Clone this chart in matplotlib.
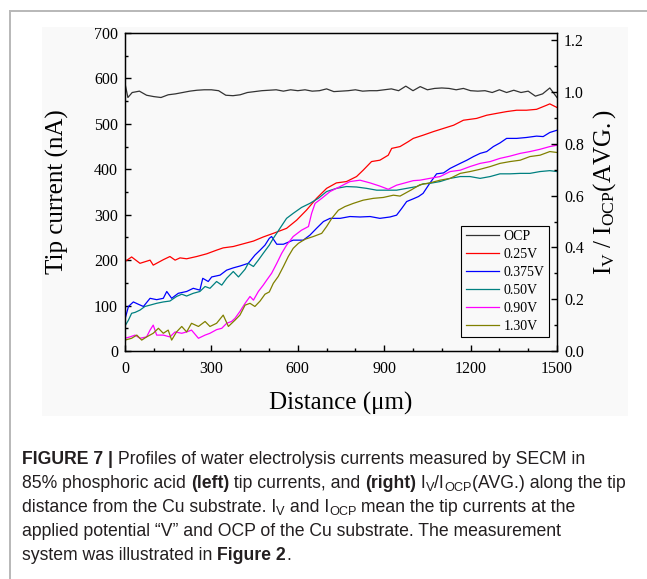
import numpy as np
import matplotlib
matplotlib.use("Agg")
import matplotlib.pyplot as plt
from matplotlib import font_manager
from matplotlib.patches import Rectangle
from matplotlib.lines import Line2D
from matplotlib.ticker import MultipleLocator, FormatStrFormatter

# ---- data (distance in um, tip current in nA) ----
ocp_x = [0, 10, 25, 50, 75, 100, 125, 150, 175, 200, 225, 250, 275, 300, 325, 350, 375, 400,
         425, 450, 475, 500, 525, 550, 575, 600, 625, 650, 675, 700, 725, 750, 775, 800, 825,
         850, 875, 900, 925, 950, 975, 1000, 1025, 1050, 1075, 1100, 1125, 1150, 1175, 1200,
         1225, 1250, 1275, 1300, 1325, 1350, 1375, 1400, 1425, 1450, 1475, 1500]
ocp_y = [589, 558, 569, 572, 563, 560, 558, 564, 566, 569, 572, 574, 575, 575, 573, 563, 562, 564,
         569, 571, 573, 574, 575, 572, 575, 573, 575, 572, 573, 577, 571, 572, 573, 575, 572,
         573, 573, 575, 577, 573, 583, 573, 582, 575, 578, 579, 578, 575, 578, 573,
         572, 573, 569, 575, 569, 574, 569, 572, 561, 566, 579, 558]

v025_x = [0, 23, 52, 87, 98, 133, 156, 174, 191, 214, 249, 284, 318, 341, 376, 411, 446, 480,
          515, 561, 596, 630, 665, 700, 734, 769, 804, 827, 856, 885, 914, 926, 955, 984, 1001,
          1035, 1071, 1106, 1141, 1175, 1221, 1256, 1290, 1325, 1360, 1394, 1429, 1464, 1475, 1500]
v025_y = [197, 207, 193, 200, 189, 201, 208, 200, 205, 203, 208, 214, 222, 227, 230, 236, 242, 251,
          259, 270, 288, 310, 336, 358, 370, 373, 384, 398, 417, 420, 431, 446, 450, 461, 468,
          475, 483, 490, 497, 508, 512, 519, 523, 527, 530, 530, 532, 541, 544, 536]

v0375_x = [0, 12, 29, 46, 64, 87, 110, 133, 145, 162, 185, 214, 237, 260, 270, 289, 301, 330,
           353, 376, 399, 428, 451, 469, 486, 501, 509, 527, 550, 584, 619, 642, 665, 689, 712,
           747, 781, 816, 851, 885, 920, 943, 961, 978, 1001, 1019, 1035, 1058, 1082, 1106, 1129,
           1164, 1187, 1210, 1233, 1256, 1279, 1302, 1325, 1360, 1394, 1429, 1452, 1475, 1500]
v0375_y = [70, 98, 108, 103, 98, 116, 113, 116, 131, 116, 127, 131, 138, 134, 160, 153, 163, 167,
           178, 183, 187, 193, 211, 222, 233, 248, 252, 235, 235, 244, 244, 255, 270, 285, 292,
           292, 296, 295, 296, 292, 295, 299, 314, 329, 335, 340, 347, 369, 390, 392, 402,
           413, 420, 428, 435, 439, 450, 458, 468, 468, 470, 473, 472, 481, 486]

v050_x = [0, 12, 23, 35, 52, 69, 87, 110, 133, 156, 179, 197, 214, 237, 260, 278, 295, 318, 336,
          353, 376, 394, 417, 428, 446, 463, 480, 501, 515, 538, 561, 584, 613, 642, 671, 700,
          734, 769, 804, 839, 874, 908, 943, 978, 1013, 1035, 1058, 1094, 1129, 1164, 1198, 1233,
          1268, 1302, 1337, 1372, 1406, 1441, 1475, 1500]
v050_y = [55, 68, 83, 85, 90, 98, 101, 105, 108, 110, 120, 125, 121, 127, 131, 142, 138, 153, 145,
          160, 175, 163, 180, 193, 186, 200, 215, 233, 248, 270, 292, 303, 316, 325, 336, 351,
          358, 362, 361, 358, 354, 354, 354, 358, 362, 368, 369, 373, 380, 384, 384, 380,
          384, 390, 390, 391, 391, 395, 397, 395]

v090_x = [0, 17, 35, 52, 75, 87, 98, 110, 133, 156, 174, 197, 214, 231, 255, 278, 295, 318, 336,
          353, 370, 382, 399, 417, 434, 446, 463, 480, 492, 509, 527, 544, 561, 584, 613, 637, 648,
          660, 683, 712, 747, 781, 816, 851, 885, 914, 943, 972, 1001, 1024, 1058, 1094, 1129,
          1164, 1198, 1233, 1268, 1302, 1337, 1372, 1406, 1441, 1475, 1500]
v090_y = [28, 31, 35, 28, 31, 46, 57, 35, 35, 31, 42, 39, 42, 46, 28, 35, 39, 47, 50,
          61, 65, 72, 87, 105, 120, 112, 131, 145, 156, 171, 193, 215, 233, 252, 266, 274, 303,
          325, 336, 351, 362, 373, 376, 370, 363, 356, 365, 370, 375, 376, 380, 384, 395,
          398, 406, 413, 417, 424, 429, 435, 439, 444, 450, 453]

v130_x = [0, 23, 41, 58, 75, 98, 116, 133, 150, 162, 179, 197, 214, 231, 255, 278, 295, 318, 341,
          359, 382, 399, 417, 434, 451, 469, 486, 501, 515, 532, 550, 567, 584, 602, 625, 654,
          683, 700, 718, 741, 764, 793, 827, 862, 897, 932, 955, 995, 1024, 1058, 1094, 1129,
          1164, 1198, 1233, 1268, 1302, 1337, 1372, 1406, 1441, 1475, 1500]
v130_y = [24, 28, 35, 24, 31, 39, 50, 39, 46, 24, 42, 54, 42, 61, 54, 65, 54, 61, 79,
          54, 68, 79, 101, 105, 98, 110, 125, 130, 149, 164, 186, 208, 226, 237, 246, 252,
          259, 274, 292, 310, 318, 325, 332, 336, 338, 343, 341, 355, 366, 370, 376, 380,
          391, 395, 400, 406, 413, 417, 420, 428, 431, 439, 437]

series = [
    ("OCP", ocp_x, ocp_y, "#333333"),
    ("0.25V", v025_x, v025_y, "#ff0000"),
    ("0.375V", v0375_x, v0375_y, "#0000ff"),
    ("0.50V", v050_x, v050_y, "#008080"),
    ("0.90V", v090_x, v090_y, "#ff00ff"),
    ("1.30V", v130_x, v130_y, "#808000"),
]
ocp_avg = 570.0  # right axis is I / I_OCP(avg)

# ---- fonts ----
names = {f.name for f in font_manager.fontManager.ttflist}
cap_font = "Liberation Sans Narrow" if "Liberation Sans Narrow" in names else "Liberation Sans"
plt.rcParams["font.family"] = ["Liberation Serif", "DejaVu Serif"]
plt.rcParams["mathtext.fontset"] = "stix"

W, H = 647, 579
fig = plt.figure(figsize=(W / 100, H / 100), dpi=100)


def fx(px):
    return px / W


def fy(py):
    return 1 - py / H


# page decorations: grey rule lines and light panel behind the chart
fig.add_artist(Line2D([fx(10), fx(10)], [fy(11), fy(579)], color="#b8b8b8", lw=1.4))
fig.add_artist(Line2D([fx(10), fx(647)], [fy(11), fy(11)], color="#b8b8b8", lw=1.4))
fig.add_artist(Rectangle((fx(42), fy(416)), fx(628) - fx(42), fy(27) - fy(416),
                         facecolor="#f9f9f9", edgecolor="none", zorder=0))

ax = fig.add_axes([fx(125), fy(351), fx(557) - fx(125), fy(33) - fy(351)])
ax.set_facecolor("#f9f9f9")
for name, xs, ys, col in series:
    ax.plot(xs, ys, color=col, lw=0.9, label=name)

ax.set_xlim(0, 1500)
ax.set_ylim(0, 700)
ax.xaxis.set_major_locator(MultipleLocator(300))
ax.xaxis.set_minor_locator(MultipleLocator(100))
ax.yaxis.set_major_locator(MultipleLocator(100))
ax.yaxis.set_minor_locator(MultipleLocator(50))
ax.tick_params(which="both", direction="in", top=False, right=False, width=1.0)
ax.tick_params(which="major", length=4.5, labelsize=11.5, pad=5)
ax.tick_params(axis="x", which="major", pad=7)
ax.tick_params(which="minor", length=2.3)
ax.set_xlabel("Distance (\u03bcm)", fontsize=18, labelpad=11)
ax.set_ylabel("Tip current (nA)", fontsize=18, labelpad=18)
for sp in ax.spines.values():
    sp.set_linewidth(1.0)

ax2 = ax.twinx()
ax2.set_ylim(0, 700 / ocp_avg)
ax2.yaxis.set_major_locator(MultipleLocator(0.2))
ax2.yaxis.set_minor_locator(MultipleLocator(0.1))
ax2.yaxis.set_major_formatter(FormatStrFormatter("%.1f"))
ax2.tick_params(which="both", direction="in", width=1.0)
ax2.tick_params(which="major", length=4.5, labelsize=11.5, pad=5)
ax2.tick_params(which="minor", length=2.3)
ax2.set_ylabel(r"$\mathregular{I_V\ /\ I_{OCP}(AVG.)}$", fontsize=18, labelpad=5)

leg = ax.legend(loc="lower right", bbox_to_anchor=(0.981, 0.044), fontsize=10,
                frameon=True, fancybox=False, edgecolor="black", facecolor="#f9f9f9",
                framealpha=1, handlelength=2.4, handletextpad=0.35, labelspacing=0.36,
                borderpad=0.3, borderaxespad=0)
leg.get_frame().set_linewidth(0.8)

# ---- caption, laid out run by run ----
renderer = fig.canvas.get_renderer()
cap_col = "#231f20"

caption = [
    [("FIGURE 7 |", "b"), (" Profiles of water electrolysis currents measured by SECM in", "n")],
    [("85% phosphoric acid ", "n"), ("(left)", "b"), (" tip currents, and ", "n"), ("(right)", "b"),
     (" I", "n"), ("V", "s"), ("/I", "n"), ("OCP", "s"), ("(AVG.) along the tip", "n")],
    [("distance from the Cu substrate. I", "n"), ("V", "s"), (" and I", "n"), ("OCP", "s"),
     (" mean the tip currents at the", "n")],
    [("applied potential \u201cV\u201d and OCP of the Cu substrate. The measurement", "n")],
    [("system was illustrated in ", "n"), ("Figure 2", "b"), (".", "n")],
]


def draw_runs(x0, base_y, runs, size, keep=True):
    x = x0
    made = []
    for txt, kind in runs:
        s = size
        y = base_y
        weight = "normal"
        if kind == "b":
            weight = "bold"
        elif kind == "s":
            s = size * 0.72
            y = base_y + 3
        t = fig.text(fx(x), fy(y), txt, fontsize=s, fontweight=weight,
                     family=cap_font, color=cap_col, va="baseline", ha="left")
        x += t.get_window_extent(renderer).width
        made.append(t)
    if not keep:
        for t in made:
            t.remove()
    return x - x0


# fit the second (longest) line to the width it has in the reference
probe = 10.0
w = draw_runs(22, 487, caption[1], probe, keep=False)
cap_size = probe * 605.0 / w

for i, runs in enumerate(caption):
    draw_runs(22, 464 + 24 * i, runs, cap_size)

fig.savefig("out.png", dpi=100)
